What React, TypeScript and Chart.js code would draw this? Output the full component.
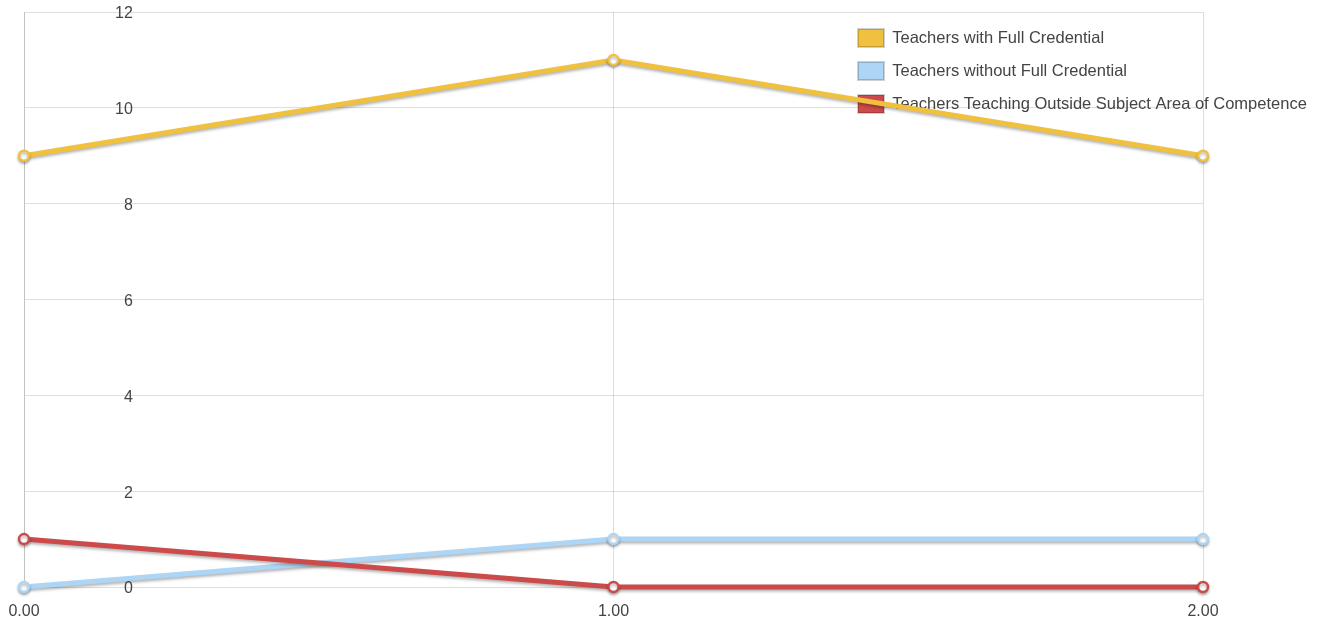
import React, { useEffect, useRef } from "react";
import { Chart, registerables } from "chart.js";

Chart.register(...registerables);

const xValues = [0, 1, 2];
const seriesNames = [
  "Teachers with Full Credential",
  "Teachers without Full Credential",
  "Teachers Teaching Outside Subject Area of Competence",
];
const fullCredential = [9, 11, 9];
const withoutCredential = [0, 1, 1];
const outsideSubject = [1, 0, 0];
const seriesColors = ["#EFC13F", "#ADD5F5", "#CC4A4A"];
const yTicks = [0, 2, 4, 6, 8, 10, 12];

const FONT = '"Helvetica Neue", Helvetica, Arial, "Liberation Sans", sans-serif';

const shadowPlugin = {
  id: "lineShadow",
  beforeDatasetsDraw(chart: any) {
    const ctx = chart.ctx;
    ctx.save();
    ctx.shadowColor = "rgba(0,0,0,0.3)";
    ctx.shadowBlur = 3;
    ctx.shadowOffsetX = 0;
    ctx.shadowOffsetY = 2;
  },
  afterDatasetsDraw(chart: any) {
    chart.ctx.restore();
  },
};

const legendPlacePlugin = {
  id: "legendPlace",
  beforeDraw(chart: any) {
    const lg = chart.legend;
    if (!lg) return;
    const w = lg.width;
    const h = lg.height;
    lg.left = 843;
    lg.right = 843 + w;
    lg.top = 14;
    lg.bottom = 14 + h;
  },
};

export default function App() {
  const ref = useRef<HTMLCanvasElement | null>(null);

  useEffect(() => {
    if (!ref.current) return;
    const series = [fullCredential, withoutCredential, outsideSubject];
    const chart = new Chart(ref.current, {
      type: "line",
      data: {
        datasets: series.map((vals, i) => ({
          label: seriesNames[i],
          data: xValues.map((x, j) => ({ x, y: vals[j] })),
          borderColor: seriesColors[i],
          backgroundColor: seriesColors[i],
          borderWidth: 5,
          pointRadius: 5,
          pointBorderWidth: 2.5,
          pointBackgroundColor: "#ffffff",
          pointBorderColor: seriesColors[i],
          tension: 0,
          fill: false,
          clip: false,
          order: 3 - i,
        })),
      },
      options: {
        animation: false,
        responsive: true,
        maintainAspectRatio: false,
        layout: { padding: { left: 24, right: 119, top: 12, bottom: 5 } },
        scales: {
          x: {
            type: "linear",
            min: 0,
            max: 2,
            grid: { color: "rgba(0,0,0,0.13)", drawTicks: false },
            border: { display: false },
            afterFit: (scale: any) => {
              scale.height = 32;
              scale.paddingLeft = 0;
              scale.paddingRight = 0;
            },
            ticks: {
              stepSize: 1,
              padding: 15,
              color: "#444",
              font: { family: FONT, size: 16 },
              callback: (v: any) => Number(v).toFixed(2),
            },
          },
          y: {
            type: "linear",
            min: 0,
            max: 12,
            grid: { color: "rgba(0,0,0,0.13)", drawTicks: false },
            border: { color: "rgba(0,0,0,0.13)" },
            afterBuildTicks: (scale: any) => {
              scale.ticks = yTicks.map((v) => ({ value: v }));
            },
            afterFit: (scale: any) => {
              scale.width = 0;
              scale.paddingTop = 0;
              scale.paddingBottom = 0;
            },
            ticks: {
              mirror: true,
              crossAlign: "far",
              padding: 91,
              labelOffset: 2,
              color: "#444",
              font: { family: FONT, size: 16 },
            },
          },
        },
        plugins: {
          tooltip: { enabled: false },
          legend: {
            position: "chartArea",
            align: "start",
            labels: {
              boxWidth: 26,
              boxHeight: 18,
              padding: 15,
              color: "#444",
              font: { family: FONT, size: 16.5 },
              sort: (a: any, b: any) => a.datasetIndex - b.datasetIndex,
              generateLabels: (c: any) =>
                Chart.defaults.plugins.legend.labels
                  .generateLabels(c)
                  .map((it: any) => ({
                    ...it,
                    fillStyle: seriesColors[it.datasetIndex],
                    strokeStyle: "rgba(0,0,0,0.18)",
                    lineWidth: 2,
                  })),
            },
          },
        },
      } as any,
      plugins: [shadowPlugin, legendPlacePlugin],
    });
    return () => chart.destroy();
  }, []);

  return (
    <div style={{ position: "fixed", left: 0, top: 0, width: 1322, height: 624, background: "#fff" }}>
      <canvas ref={ref} />
    </div>
  );
}
